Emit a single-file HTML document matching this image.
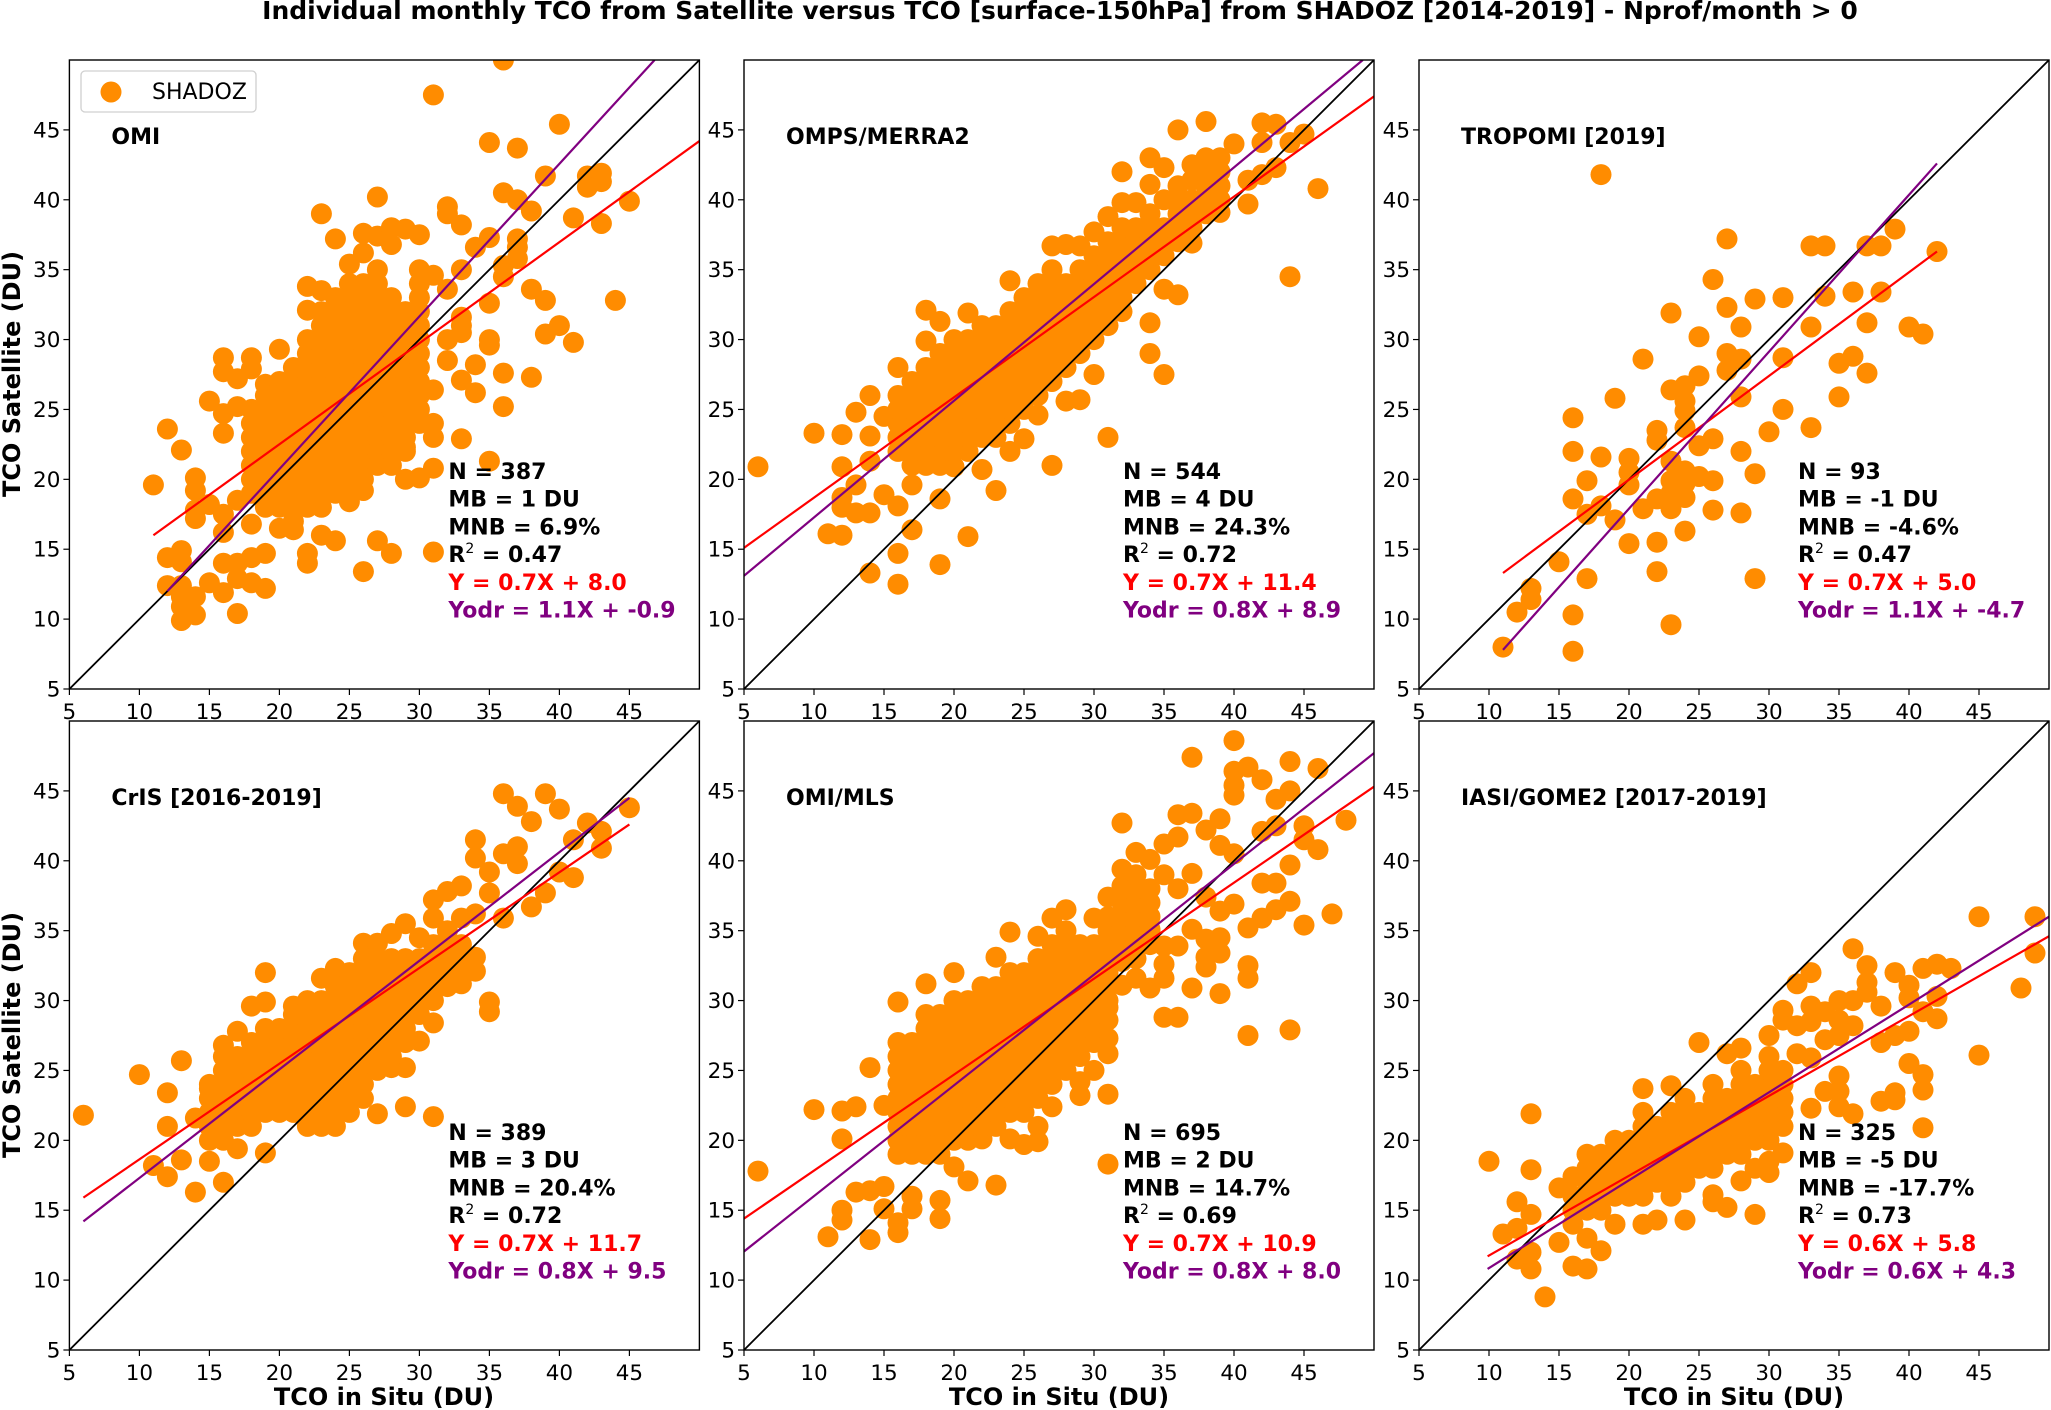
<!DOCTYPE html>
<html><head><meta charset="utf-8">
<style>
html,body{margin:0;padding:0;background:#fff;}
svg{display:block;font-family:"DejaVu Sans","Liberation Sans",sans-serif;}
</style></head>
<body>
<svg id="chart" width="2051" height="1410" viewBox="0 0 2051 1410" xmlns="http://www.w3.org/2000/svg">
<text x="1060" y="19" text-anchor="middle" font-size="25" font-weight="bold">Individual monthly TCO from Satellite versus TCO [surface-150hPa] from SHADOZ [2014-2019] - Nprof/month &gt; 0</text>
<text transform="translate(20,374) rotate(-90)" text-anchor="middle" font-size="24" font-weight="bold">TCO Satellite (DU)</text>
<text transform="translate(20,1035) rotate(-90)" text-anchor="middle" font-size="24" font-weight="bold">TCO Satellite (DU)</text>
<text x="384" y="1405" text-anchor="middle" font-size="24" font-weight="bold">TCO in Situ (DU)</text>
<text x="1059" y="1405" text-anchor="middle" font-size="24" font-weight="bold">TCO in Situ (DU)</text>
<text x="1734" y="1405" text-anchor="middle" font-size="24" font-weight="bold">TCO in Situ (DU)</text>
<g id="panels"></g>
</svg>
<script>
const xTicks=[5,10,15,20,25,30,35,40,45];
const yTicks=[5,10,15,20,25,30,35,40,45];
const axisMin=5, axisMax=50;

// Panel 1: OMI
const omiPts=[[36,50],[31,47.5],[40,45.4],[35,44.1],[37,43.7],[39,41.7],[42,41.7],[43,41.9],[43,41.3],[42,40.9],[36,40.5],[37,40],[45,39.9],[27,40.2],[38,39.2],[23,39],[32,39.5],[32,39],[41,38.7],[43,38.3],[33,38.2],[24,37.2],[26,37.6],[27,37.4],[28,38],[29,37.9],[30,37.5],[28,36.8],[34,36.6],[35,37.3],[37,37.2],[37,36.6],[37,35.8],[36,35.3],[36,34.5],[33,35],[26,36.2],[25,35.4],[38,33.6],[39,32.8],[44,32.8],[35,32.6],[32,33.6],[31,34.6],[22,33.8],[23,33.5],[22,32.1],[33,31.6],[33,31],[33,30.5],[40,31],[39,30.4],[41,29.8],[35,30],[35,29.6],[32,30],[32,28.5],[34,28.2],[36,27.6],[38,27.3],[33,27.1],[34,26.2],[31,26.4],[36,25.2],[31,24],[31,23],[33,22.9],[35,21.3],[31,20.8],[30,20.1],[29,20],[29,22.3],[20,29.3],[16,28.7],[18,28.7],[16,27.7],[17,27.2],[19,26.8],[18,27.9],[15,25.6],[16,24.7],[17,25.2],[16,23.3],[12,23.6],[13,22.1],[11,19.6],[14,20.1],[14,19.2],[14,17.2],[14,17.8],[15,18.2],[16,17.5],[16,16.2],[17,18.5],[18,16.8],[20,16.5],[21,16.4],[23,16],[24,15.6],[25,18.4],[26,19.2],[27,15.6],[28,14.7],[31,14.8],[26,13.4],[22,14.7],[22,14],[19,14.7],[18,14.4],[17,14],[16,14],[12,14.4],[13,14.9],[13,14.1],[12,12.4],[13,12.4],[13,11.6],[14,11.6],[13,10.9],[14,10.3],[13,9.9],[15,12.6],[16,11.9],[17,12.9],[18,12.6],[19,12.2],[17,10.4],[21,26.4],[20,25.7]];
const omiCore=[[18,[19,20,21,22,23,24,25]],[19,[18,19,20,21,22,23,24,25,26]],[20,[18,19,20,21,22,23,24,25,26,27]],[21,[17,18,19,20,21,22,23,24,25,26,27,28]],[22,[18,19,20,21,22,23,24,25,26,27,28,29,30]],[23,[18,19,20,21,22,23,24,25,26,27,28,29,30,31,32]],[24,[19,20,21,22,23,24,25,26,27,28,29,30,31,32,33]],[25,[19,20,21,22,23,24,25,26,27,28,29,30,31,32,33,34]],[26,[20,21,22,23,24,25,26,27,28,29,30,31,32,33,34]],[27,[21,22,23,24,25,26,27,28,29,30,31,32,33,34,35]],[28,[21,22,23,24,25,26,27,28,29,30,31,32,33]],[29,[22,23,24,25,26,27,28,29,30,31,32]],[30,[24,25,26,27,28,29,30,31,32,33,34,35]]];
const omiRed=[11,16,50,44.2];
const omiOdr=[12,12,46.8,50];

// Panel 2: OMPS/MERRA2
const ompsPts=[[6,20.9],[10,23.3],[12,23.2],[13,24.8],[14,26],[14,23.1],[11,16.1],[12,16],[12,20.9],[12,18.7],[12,18],[13,19.6],[13,17.6],[14,17.6],[14,21.3],[14,13.3],[15,18.9],[16,18.1],[16,14.7],[16,12.5],[17,19.6],[17,16.4],[19,18.6],[19,13.9],[21,15.9],[23,19.2],[27,21],[31,23],[35,27.5],[34,29],[30,27.5],[44,34.5],[46,40.8],[38,45.6],[36,45],[42,45.5],[43,45.4],[45,44.7],[44,44.1],[42,44.1],[40,44],[32,42],[34,43],[35,42.3],[34,41.1],[37,42.5],[39,43],[38,41.7],[37,41.4],[41,41.4],[42,41.8],[43,42.3],[41,39.7],[39,39.1],[32,39.8],[33,39.8],[31,38.8],[30,37.7],[27,36.7],[28,36.8],[29,36.7],[35,40],[36,40.2],[37,36.9],[35,33.6],[36,33.2],[34,31.2],[24,34.2],[18,32.1],[19,31.3],[18,29.9],[21,31.9],[16,28],[29,25.7],[28,25.6],[26,24.6],[25,22.9],[24,22],[22,20.7],[18,21],[20,20.9],[15,24.5]];
const ompsCore=[[16,[22,23,24,25,26]],[17,[21,22,23,24,25,26,27]],[18,[22,23,24,25,26,27,28]],[19,[21,22,23,24,25,26,27,28,29]],[20,[22,23,24,25,26,27,28,29,30]],[21,[22,23,24,25,26,27,28,29,30]],[22,[23,24,25,26,27,28,29,30,31]],[23,[23,24,25,26,27,28,29,30,31]],[24,[24,25,26,27,28,29,30,31,32]],[25,[25,26,27,28,29,30,31,32,33]],[26,[26,27,28,29,30,31,32,33,34]],[27,[27,28,29,30,31,32,33,34,35]],[28,[28,29,30,31,32,33,34]],[29,[29,30,31,32,33,34,35]],[30,[30,31,32,33,34,35,36]],[31,[31,32,33,34,35,36,37]],[32,[32,33,34,35,36,37,38]],[33,[34,35,36,37,38]],[34,[35,36,37,38,39]],[35,[36,37,38]],[36,[37,38,39,40,41]],[37,[38,39,40]],[38,[39,40,41,42,43]],[39,[40,41,42]]];
const ompsRed=[5,15.1,50,47.4];
const ompsOdr=[5,13.1,49.2,50];

// Panel 3: TROPOMI
const tropPts=[[18,41.8],[27,37.2],[33,36.7],[34,36.7],[37,36.7],[38,36.7],[39,37.9],[42,36.3],[26,34.3],[23,31.9],[27,32.3],[29,32.9],[31,33],[34,33.1],[36,33.4],[38,33.4],[28,30.9],[33,30.9],[37,31.2],[40,30.9],[41,30.4],[25,30.2],[21,28.6],[27,29],[28,28.6],[27,27.8],[31,28.7],[35,28.3],[36,28.8],[37,27.6],[25,27.4],[23,26.4],[24,26.7],[24,25.6],[24,24.9],[28,25.9],[19,25.8],[35,25.9],[31,25],[16,24.4],[33,23.7],[22,23.5],[22,22.8],[24,23.7],[26,22.9],[25,22.4],[30,23.4],[28,22],[16,22],[18,21.6],[20,21.5],[20,20.5],[20,19.6],[23,21.3],[24,20.6],[23,19.9],[25,20.2],[26,19.9],[24,19.7],[23,19],[24,18.7],[29,20.4],[17,19.9],[16,18.6],[18,18.1],[17,17.5],[19,17.1],[21,17.9],[22,18.6],[23,17.9],[26,17.8],[28,17.6],[24,16.3],[20,15.4],[22,15.5],[15,14.1],[22,13.4],[17,12.9],[29,12.9],[13,12.2],[13,11.4],[12,10.5],[16,10.3],[23,9.6],[11,8],[16,7.7]];
const tropCore=[];
const tropRed=[11,13.3,42,36.3];
const tropOdr=[11,7.8,42,42.6];

// Panel 4: CrIS
const crisPts=[[6,21.8],[10,24.7],[13,25.7],[12,23.4],[11,18.2],[12,21],[12,17.4],[13,18.6],[14,16.3],[15,18.5],[16,17],[17,19.4],[19,19.1],[14,21.6],[15,23.7],[19,32],[24,32.3],[27,21.9],[29,22.4],[31,21.7],[35,29.9],[35,29.2],[31,28.4],[30,27.1],[28,25.2],[29,25.2],[36,44.8],[39,44.8],[37,43.9],[40,43.7],[38,42.8],[45,43.8],[42,42.7],[43,42.1],[43,40.9],[41,41.5],[34,41.5],[34,40.2],[36,40.5],[37,41],[37,39.8],[35,39.2],[35,37.7],[38,36.7],[39,37.7],[40,39.2],[41,38.8],[33,38.2],[32,37.8],[31,37.2],[31,35.9],[33,35.9],[34,36.2],[36,35.9],[29,35.5],[28,34.8],[30,34.5],[26,34.1],[27,34.1],[34,33.1],[34,32.1],[33,31.2],[23,31.6],[18,29.6],[19,29.9],[21,29.6],[16,26.8],[17,27.8],[31,31.2],[30,29.9],[22,21],[23,21],[24,21],[25,22],[26,23]];
const crisCore=[[15,[20,21,22,23,24]],[16,[20,21,22,23,24,25,26]],[17,[21,22,23,24,25,26]],[18,[21,22,23,24,25,26,27]],[19,[22,23,24,25,26,27,28]],[20,[22,23,24,25,26,27,28]],[21,[22,23,24,25,26,27,28,29]],[22,[22,23,24,25,26,27,28,29,30]],[23,[22,23,24,25,26,27,28,29,30]],[24,[22,23,24,25,26,27,28,29,30,31]],[25,[23,24,25,26,27,28,29,30,31,32]],[26,[24,25,26,27,28,29,30,31,32,33]],[27,[25,26,27,28,29,30,31,32,33]],[28,[26,27,28,29,30,31,32,33]],[29,[27,28,29,30,31,32,33]],[30,[29,30,31,32,33]],[31,[30,31,32,33,34]],[32,[31,32,33,34,35]],[33,[32,33,34]]];
const crisRed=[6,15.9,45,42.6];
const crisOdr=[6,14.2,45,44.5];

// Panel 5: OMI/MLS
const mlsPts=[[6,17.8],[10,22.2],[12,22.1],[13,22.4],[14,25.2],[15,22.5],[11,13.1],[12,15],[12,14.3],[14,12.9],[16,14.1],[16,13.4],[15,15.1],[17,16],[17,15.1],[19,15.7],[19,14.4],[21,17.1],[23,16.8],[20,18.1],[12,20.1],[13,16.3],[14,16.4],[15,16.7],[16,29.9],[18,31.2],[20,32],[23,33.1],[24,34.9],[26,34.6],[27,35.9],[28,36.5],[31,18.3],[31,23.3],[29,23.2],[27,22.4],[26,19.9],[35,28.8],[36,28.8],[37,30.9],[39,30.5],[41,27.5],[44,27.9],[41,32.5],[41,31.6],[38,32.4],[47,36.2],[45,35.4],[48,42.9],[46,40.8],[45,41.5],[44,39.7],[43,38.4],[42,38.4],[44,37.1],[43,36.5],[41,35.2],[42,35.9],[40,48.6],[37,47.4],[40,46.4],[41,46.7],[42,45.8],[44,47.1],[46,46.6],[40,44.7],[40,45.4],[43,44.4],[44,45],[32,42.7],[36,43.3],[37,43.4],[39,43],[38,42.2],[42,42.1],[43,42.5],[45,42.5],[35,41.2],[36,41.7],[39,41.1],[40,40.5],[33,40.6],[37,39.1],[32,39.4],[34,40.1],[35,39],[36,38],[31,37.4],[32,38.2],[33,37.9],[30,35.9],[38,37.4],[39,36.4],[40,36.9],[37,35.1],[38,34.4],[39,34.5],[39,33.4],[38,33.1],[36,33.9],[34,35.1],[35,33.9],[35,32.6],[35,31.6],[34,30.9],[32,32.8],[33,31.6],[32,31.1],[31,29.5],[31,28.6],[31,27.3],[31,26.2],[30,27],[30,25],[29,24.2],[25,23],[26,21],[24,20.1],[25,19.7],[22,20.1]];
const mlsCore=[[16,[19,20,21,22,23,24,25,26,27]],[17,[19,20,21,22,23,24,25,26,27]],[18,[19,20,21,22,23,24,25,26,27,28,29]],[19,[19,20,21,22,23,24,25,26,27,28,29]],[20,[20,21,22,23,24,25,26,27,28,29,30]],[21,[20,21,22,23,24,25,26,27,28,29,30]],[22,[21,22,23,24,25,26,27,28,29,30,31]],[23,[21,22,23,24,25,26,27,28,29,30,31]],[24,[22,23,24,25,26,27,28,29,30,31,32]],[25,[22,23,24,25,26,27,28,29,30,31,32]],[26,[23,24,25,26,27,28,29,30,31,32,33]],[27,[24,25,26,27,28,29,30,31,32,33,34]],[28,[25,26,27,28,29,30,31,32,33,34,35]],[29,[26,27,28,29,30,31,32,33,34]],[30,[28,29,30,31,32,33,34]],[31,[30,31,32,33,34,35,36]],[32,[33,34,35,36,37]],[33,[33,34,35,36,37,38,39]],[34,[34,35,36,37,38]]];
const mlsRed=[5,14.4,50,45.3];
const mlsOdr=[5,12.05,50,47.7];

// Panel 6: IASI/GOME2
const iasiPts=[[10,18.5],[13,21.9],[13,17.9],[14,8.8],[12,15.6],[12,11.5],[13,10.8],[13,12],[11,13.3],[12,13.7],[13,14.7],[15,12.7],[16,11],[17,10.8],[18,12.1],[15,16.6],[16,17.4],[25,27],[21,23.7],[23,23.9],[36,33.7],[45,36],[49,36],[49,33.4],[48,30.9],[45,26.1],[37,32.5],[39,32],[41,32.3],[42,32.6],[43,32.3],[37,31.3],[37,30.6],[40,31.1],[40,30.2],[42,30.3],[42,28.7],[41,29.2],[38,29.6],[38,27],[39,27.5],[40,27.8],[33,32],[32,31.2],[31,29.3],[33,29.6],[35,30],[36,30],[34,29.2],[35,28.6],[36,28.2],[31,28.6],[32,28.2],[33,28.5],[34,27.2],[35,27.5],[30,27.5],[28,26.6],[27,26.2],[32,26.2],[33,25.9],[40,25.5],[41,24.7],[41,23.6],[38,22.8],[39,22.9],[39,23.4],[41,20.9],[35,24.6],[35,23.5],[35,22.4],[36,21.9],[34,23.5],[33,22.3],[31,19.1],[30,17.7],[29,14.7],[27,15.2],[26,15.6],[26,16.1],[24,14.3],[22,14.3],[21,14],[19,14],[17,13],[28,17.1],[29,18],[30,18.5]];
const iasiCore=[[16,[14,15,16]],[17,[15,16,17,18,19]],[18,[15,16,17,18,19]],[19,[16,17,18,19,20]],[20,[16,17,18,19,20]],[21,[16,17,18,19,20,21,22]],[22,[17,18,19,20,21]],[23,[16,17,18,19,20,21,22]],[24,[17,18,19,20,21,22,23]],[25,[18,19,20,21,22]],[26,[18,19,20,21,22,23,24]],[27,[19,20,21,22,23]],[28,[19,20,21,22,23,24,25]],[29,[20,21,22,23,24]],[30,[20,21,22,23,24,25,26]],[31,[21,22,23,24,25]]];
const iasiRed=[9.9,11.7,50,34.6];
const iasiOdr=[9.9,10.8,50,36];

const panelTitles=["OMI","OMPS/MERRA2","TROPOMI [2019]","CrIS [2016-2019]","OMI/MLS","IASI/GOME2 [2017-2019]"];
const statN=["387","544","93","389","695","325"];
const statMB=["1","4","-1","3","2","-5"];
const statMNB=["6.9","24.3","-4.6","20.4","14.7","-17.7"];
const statR2=["0.47","0.72","0.47","0.72","0.69","0.73"];
const statY=["0.7X + 8.0","0.7X + 11.4","0.7X + 5.0","0.7X + 11.7","0.7X + 10.9","0.6X + 5.8"];
const statYodr=["1.1X + -0.9","0.8X + 8.9","1.1X + -4.7","0.8X + 9.5","0.8X + 8.0","0.6X + 4.3"];

const allPts=[omiPts,ompsPts,tropPts,crisPts,mlsPts,iasiPts];
const allCore=[omiCore,ompsCore,tropCore,crisCore,mlsCore,iasiCore];
const allRed=[omiRed,ompsRed,tropRed,crisRed,mlsRed,iasiRed];
const allOdr=[omiOdr,ompsOdr,tropOdr,crisOdr,mlsOdr,iasiOdr];

const NS="http://www.w3.org/2000/svg";
const root=document.getElementById('panels');
const colL=[69.4,744,1419], rowT=[60,721], PW=630, PH=629;
function mk(tag,attrs,parent){const e=document.createElementNS(NS,tag);for(const k in attrs)e.setAttribute(k,attrs[k]);parent.appendChild(e);return e;}
const defs=mk('defs',{},document.getElementById('chart'));

for(let p=0;p<6;p++){
  const L=colL[p%3], T=rowT[Math.floor(p/3)];
  const sx=v=>L+(v-axisMin)/(axisMax-axisMin)*PW;
  const sy=v=>T+PH-(v-axisMin)/(axisMax-axisMin)*PH;
  const g=mk('g',{},root);
  
  
  const cp=mk('clipPath',{id:'clip'+p},defs);
  mk('rect',{x:L,y:T,width:PW,height:PH},cp);
  const plot=mk('g',{'clip-path':'url(#clip'+p+')'},g);
  
  
  const pts=allPts[p].slice();
  allCore[p].forEach(c=>c[1].forEach(y=>pts.push([c[0],y])));
  pts.forEach(pt=>{
    const c=mk('circle',{cx:sx(pt[0]).toFixed(1),cy:sy(pt[1]).toFixed(1),r:10.5,fill:'#ff8c00'},plot);
    
    
  });
  const one=mk('line',{x1:sx(axisMin),y1:sy(axisMin),x2:sx(axisMax),y2:sy(axisMax),stroke:'#000','stroke-width':1.8},plot);
  
  
  const r=allRed[p];
  const rl=mk('line',{x1:sx(r[0]),y1:sy(r[1]),x2:sx(r[2]),y2:sy(r[3]),stroke:'#ff0000','stroke-width':2.2},plot);
  
  
  const o=allOdr[p];
  const ol=mk('line',{x1:sx(o[0]),y1:sy(o[1]),x2:sx(o[2]),y2:sy(o[3]),stroke:'#800080','stroke-width':2.2},plot);
  
  
  const fr=mk('rect',{x:L,y:T,width:PW,height:PH,fill:'none',stroke:'#000','stroke-width':1.4},g);
  
  
  xTicks.forEach(v=>{
    mk('line',{x1:sx(v),y1:T+PH,x2:sx(v),y2:T+PH+6,stroke:'#000','stroke-width':1.2},g);
    const t=mk('text',{x:sx(v),y:T+PH+30,'text-anchor':'middle','font-size':21.5},g);
    t.textContent=v;
    
    
  });
  yTicks.forEach(v=>{
    mk('line',{x1:L-6,y1:sy(v),x2:L,y2:sy(v),stroke:'#000','stroke-width':1.2},g);
    const t=mk('text',{x:L-9,y:sy(v)+7.5,'text-anchor':'end','font-size':21.5},g);
    t.textContent=v;
    
    
  });
  const pt=mk('text',{x:L+42,y:T+84,'font-size':22,'font-weight':'bold'},g);
  pt.textContent=panelTitles[p];
  
  
  const sxT=L+379, sy0=T+419, lh=27.7;
  const lines=[['N = '+statN[p],'#000'],['MB = '+statMB[p]+' DU','#000'],['MNB = '+statMNB[p]+'%','#000'],[null,'#000'],['Y = '+statY[p],'#ff0000'],['Yodr = '+statYodr[p],'#800080']];
  lines.forEach((ln,i)=>{
    const t=mk('text',{x:sxT,y:sy0+i*lh,'font-size':22,'font-weight':'bold',fill:ln[1]},g);
    
    
    if(ln[0]!==null){t.textContent=ln[0];}
    else{
      const a=mk('tspan',{},t);a.textContent='R';
      const b=mk('tspan',{dy:-9,'font-size':14,'font-weight':'normal'},t);b.textContent='2';
      const c=mk('tspan',{dy:9},t);c.textContent=' = '+statR2[p];
    }
  });
}
const lg=mk('g',{},root);


mk('rect',{x:81,y:71,width:175,height:41,rx:4,fill:'#fff',stroke:'#d0d0d0','stroke-width':1.3},lg);
const lm=mk('circle',{cx:111,cy:92,r:10.5,fill:'#ff8c00'},lg);


const lt=mk('text',{x:152,y:99,'font-size':22},lg);
lt.textContent='SHADOZ';


</script>
</body></html>
